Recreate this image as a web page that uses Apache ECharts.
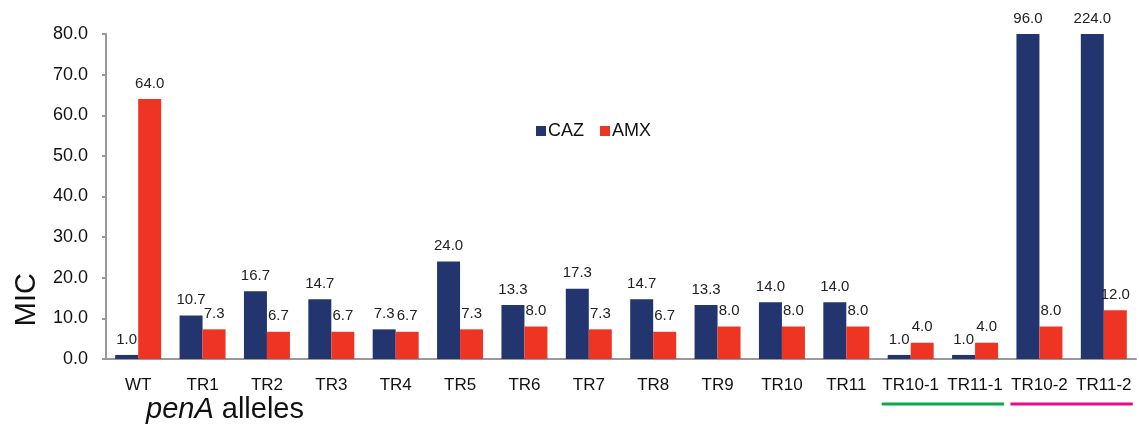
<!DOCTYPE html>
<html><head><meta charset="utf-8">
<script src="https://cdn.jsdelivr.net/npm/echarts@6/dist/echarts.min.js"></script>
<style>html,body{margin:0;padding:0;background:#fff}#c{width:1139px;height:431px}</style>
</head><body><div id="c"></div>
<script>
var categories = ['WT','TR1','TR2','TR3','TR4','TR5','TR6','TR7','TR8','TR9','TR10','TR11','TR10-1','TR11-1','TR10-2','TR11-2'];
var cazValues = [1.0,10.7,16.7,14.7,7.3,24.0,13.3,17.3,14.7,13.3,14.0,14.0,1.0,1.0,96.0,224.0];
var amxValues = [64.0,7.3,6.7,6.7,6.7,7.3,8.0,7.3,6.7,8.0,8.0,8.0,4.0,4.0,8.0,12.0];
var yMax = 80;

var chart = echarts.init(document.getElementById('c'));
function clipData(arr){ return arr.map(function(v){ return {value: Math.min(v, yMax), real: v}; }); }
var labelCfg = {show:true, position:'top', distance:8, fontSize:15, color:'#222', fontFamily:'Liberation Sans, Arial, sans-serif',
  formatter:function(p){ return p.data.real.toFixed(1); }};
chart.setOption({
  animation:false,
  grid:{left:106, right:3, top:34, bottom:72},
  legend:{left:531, top:117, itemWidth:10, itemHeight:10, itemGap:16, icon:'rect',
    textStyle:{fontSize:18, color:'#111', fontFamily:'Liberation Sans, Arial, sans-serif', padding:[0,0,0,-3]},
    data:['CAZ','AMX']},
  xAxis:{type:'category', data:categories,
    axisLine:{lineStyle:{color:'#999', width:2}}, axisTick:{show:false},
    axisLabel:{fontSize:17, color:'#111', margin:18, interval:0, fontFamily:'Liberation Sans, Arial, sans-serif'}},
  yAxis:{type:'value', min:0, max:yMax, interval:10,
    axisLine:{show:true, lineStyle:{color:'#999', width:2}},
    axisTick:{show:true, length:4, lineStyle:{color:'#999', width:2}},
    splitLine:{show:false},
    axisLabel:{fontSize:18, color:'#111', margin:18, fontFamily:'Liberation Sans, Arial, sans-serif',
      formatter:function(v){ return v.toFixed(1); }}},
  series:[
    {name:'CAZ', type:'bar', data:clipData(cazValues), barWidth:23, barGap:'0%', itemStyle:{color:'#22356F'}, label:labelCfg},
    {name:'AMX', type:'bar', data:clipData(amxValues), barWidth:23, barGap:'0%', itemStyle:{color:'#EE3524'}, label:labelCfg}
  ]
});

var p1 = chart.convertToPixel({xAxisIndex:0}, 'TR10-1');
var p2 = chart.convertToPixel({xAxisIndex:0}, 'TR11-1');
var p3 = chart.convertToPixel({xAxisIndex:0}, 'TR10-2');
var p4 = chart.convertToPixel({xAxisIndex:0}, 'TR11-2');
var half = 29;
chart.setOption({
  graphic:[
    {type:'text', left:12, top:273, rotation:Math.PI/2,
      style:{text:'MIC', font:'29px "Liberation Sans", Arial, sans-serif', fill:'#111'}},
    {type:'text', left:146, top:395,
      style:{text:'{i|penA}{n| alleles}', rich:{
        i:{fontStyle:'italic', fontSize:29, fontFamily:'Liberation Sans, Arial, sans-serif', fill:'#111'},
        n:{fontSize:29, fontFamily:'Liberation Sans, Arial, sans-serif', fill:'#111'}}}},
    {type:'line', shape:{x1:p1-half, y1:404, x2:p2+half, y2:404}, style:{stroke:'#0AAA4B', lineWidth:3}},
    {type:'line', shape:{x1:p3-half, y1:404, x2:p4+half, y2:404}, style:{stroke:'#EC0A8C', lineWidth:3}}
  ]
});
</script></body></html>
